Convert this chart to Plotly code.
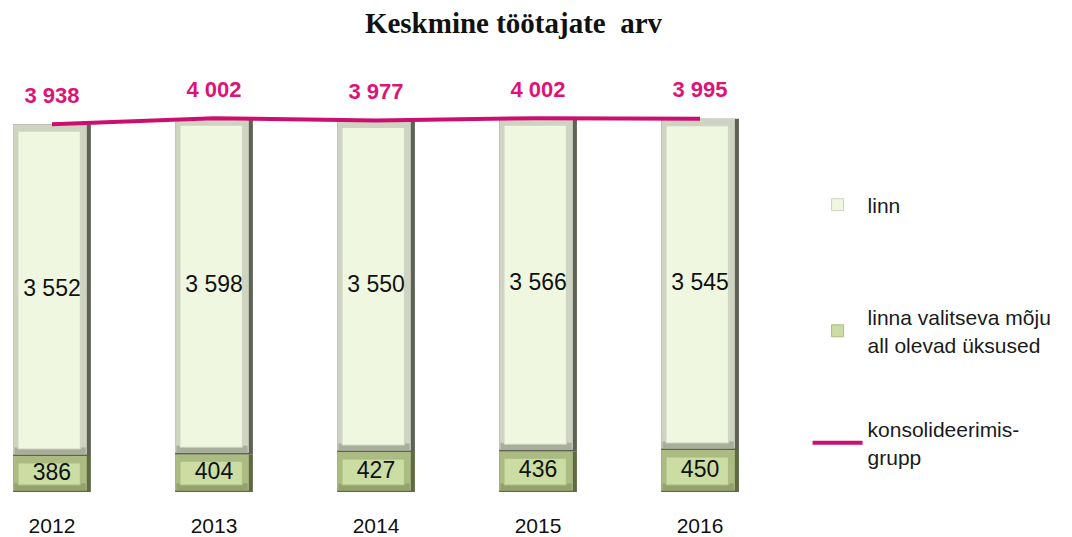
import plotly.graph_objects as go

years = ["2012", "2013", "2014", "2015", "2016"]
linn = [3552, 3598, 3550, 3566, 3545]
uksused = [386, 404, 427, 436, 450]
konsolideeritud = [3938, 4002, 3977, 4002, 3995]

name_linn = "linn"
name_uks = "linna valitseva mõju<br>all olevad üksused"
name_kons = "konsolideerimis-<br>grupp"


def fmt(v):
    return f"{v:,}".replace(",", " ")


PX = 4625 / 432.0  # data units per pixel (style constant)
BEV = 7 * PX

FONT = "Liberation Sans, Arial, sans-serif"

fig = go.Figure()


def bevel_bar(bases, heights, dark, mid, low, face, legend_name, legend_id):
    # outer dark edge
    fig.add_trace(go.Bar(x=years, y=heights, base=bases, width=0.48, offset=-0.24,
                         marker=dict(color=dark, line=dict(width=0)),
                         showlegend=False, hoverinfo="skip"))
    # lighter bevel
    fig.add_trace(go.Bar(x=years, y=[h - 1.5 * PX for h in heights], base=[b + 1.5 * PX for b in bases],
                         width=0.455, offset=-0.24,
                         marker=dict(color=mid, line=dict(width=0)),
                         showlegend=False, hoverinfo="skip"))
    # darker lower bevel band
    fig.add_trace(go.Bar(x=years, y=[BEV] * len(heights), base=[b + 1.5 * PX for b in bases],
                         width=0.44, offset=-0.232,
                         marker=dict(color=low, line=dict(width=0)),
                         showlegend=False, hoverinfo="skip"))
    # face
    fig.add_trace(go.Bar(x=years, y=[h - 2 * BEV for h in heights],
                         base=[b + BEV for b in bases], width=0.385, offset=-0.21,
                         marker=dict(color=face, line=dict(color=mid, width=1)),
                         name=legend_name, legend=legend_id, showlegend=True))


bevel_bar([0] * 5, uksused, "#5f6a45", "#abbb82", "#93a26b", "#cbdda3", name_uks, "legend2")
bevel_bar(uksused, linn, "#5d6255", "#cfd3c2", "#a9ad9c", "#eff7e0", name_linn, "legend")

# value labels inside the bars
fig.add_trace(go.Scatter(x=years, y=[u / 2 for u in uksused], mode="text",
                         text=[fmt(v) for v in uksused],
                         textfont=dict(family=FONT, size=23, color="#111111"),
                         showlegend=False, hoverinfo="skip"))
fig.add_trace(go.Scatter(x=years, y=[u + l / 2 for u, l in zip(uksused, linn)], mode="text",
                         text=[fmt(v) for v in linn],
                         textfont=dict(family=FONT, size=23, color="#111111"),
                         showlegend=False, hoverinfo="skip"))

# consolidated group line
fig.add_trace(go.Scatter(x=years, y=konsolideeritud, mode="lines",
                         line=dict(color="#cc0f6e", width=4),
                         name=name_kons, legend="legend3"))
fig.add_trace(go.Scatter(x=years, y=konsolideeritud, mode="markers+text",
                         marker=dict(size=24, opacity=0),
                         text=[fmt(v) for v in konsolideeritud], textposition="top center",
                         textfont=dict(family=FONT, size=22, color="#dd1476", weight="bold"),
                         showlegend=False, hoverinfo="skip", cliponaxis=False))

leg_common = dict(xanchor="left", yanchor="middle", itemwidth=50,
                  font=dict(family=FONT, size=21, color="#1a1a1a"),
                  bgcolor="rgba(0,0,0,0)", itemclick=False, itemdoubleclick=False)

LX = 1.063

fig.update_layout(
    width=1072, height=537,
    barmode="overlay",
    paper_bgcolor="white", plot_bgcolor="white",
    margin=dict(l=5, r=312, t=60, b=45, autoexpand=False),
    font=dict(family=FONT, size=21, color="#1a1a1a"),
    title=dict(text="<b>Keskmine töötajate  arv</b>", x=0.479, xanchor="center",
               y=1 - 23 / 537, yanchor="middle", yref="container",
               font=dict(family="Liberation Serif, Times New Roman, serif", size=29, color="#111111")),
    xaxis=dict(range=[-0.29, 4.37], showgrid=False, zeroline=False, showline=False,
               ticks="", tickfont=dict(family=FONT, size=21, color="#111111"),
               ticklabelstandoff=19, automargin=False),
    yaxis=dict(range=[0, 4625], visible=False, automargin=False),
    legend=dict(x=LX, y=(492 - 205) / 432, **leg_common),
    legend2=dict(x=LX, y=(492 - 331) / 432, **leg_common),
    legend3=dict(x=LX, y=(492 - 443) / 432, **leg_common),
    showlegend=True,
)

fig.write_html("out.html", config={"displayModeBar": False},
               post_script="document.body.style.margin='0';document.body.style.overflow='hidden';")
